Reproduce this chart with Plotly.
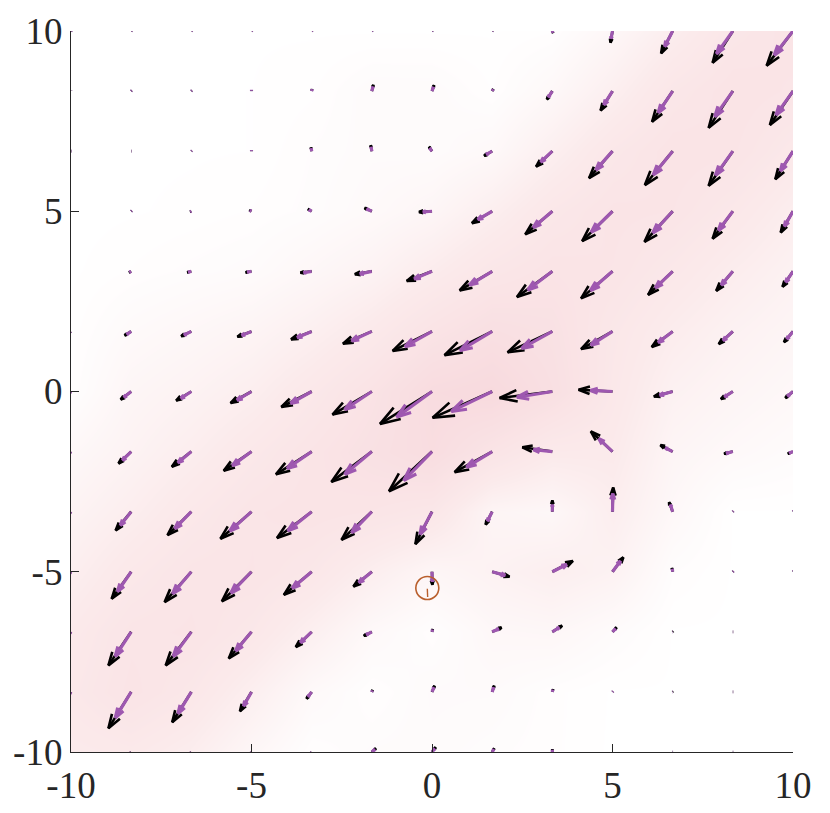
import numpy as np
import plotly.graph_objects as go

# grid (13 x 13), rows listed from top (y=10) to bottom (y=-10)
x_grid = np.linspace(-10, 10, 13)
y_grid = np.linspace(10, -10, 13)

# black field (displayed vector, data units)
U_black = [
    [0.01, 0.01, 0.01, 0.01, 0.01, 0.01, 0.01, 0.01, 0.02, -0.055, -0.32, -0.56, -0.73],
    [0.0, 0.01, 0.01, 0.0, 0.01, 0.04, 0.055, 0.03, -0.15, -0.33, -0.57, -0.67, -0.64],
    [0.01, 0.01, 0.01, 0.0, -0.02, -0.03, -0.08, -0.22, -0.45, -0.65, -0.77, -0.67, -0.49],
    [0.0, 0.01, -0.03, -0.055, -0.1, -0.2, -0.36, -0.56, -0.75, -0.84, -0.78, -0.56, -0.34],
    [-0.01, -0.055, -0.11, -0.16, -0.31, -0.47, -0.7, -0.9, -0.98, -0.87, -0.68, -0.46, -0.29],
    [-0.03, -0.18, -0.28, -0.39, -0.57, -0.8, -1.09, -1.32, -1.24, -0.87, -0.58, -0.39, -0.25],
    [-0.05, -0.29, -0.42, -0.58, -0.84, -1.09, -1.44, -1.65, -1.46, -0.94, -0.52, -0.33, -0.21],
    [-0.2, -0.35, -0.54, -0.77, -0.99, -1.12, -1.19, -1.04, -0.83, -0.6, -0.34, -0.24, -0.14],
    [-0.3, -0.43, -0.66, -0.86, -0.96, -0.84, -0.46, -0.18, 0.0, 0.02, -0.1, 0.01, 0.01],
    [-0.4, -0.54, -0.74, -0.82, -0.77, -0.51, 0.01, 0.48, 0.57, 0.3, -0.02, 0.01, 0.01],
    [-0.5, -0.63, -0.71, -0.63, -0.44, -0.22, 0.02, 0.26, 0.27, 0.11, 0.01, 0.01, 0.01],
    [-0.5, -0.63, -0.53, -0.32, -0.14, 0.02, 0.07, 0.055, 0.02, 0.01, 0.01, 0.01, 0.01],
    [-0.4, -0.45, -0.35, -0.15, -0.03, 0.11, 0.1, 0.055, 0.0, 0.01, 0.01, 0.01, 0.01],
]
V_black = [
    [0.01, 0.01, 0.01, 0.01, 0.01, 0.01, 0.01, 0.01, -0.05, -0.32, -0.62, -0.88, -0.96],
    [0.01, 0.01, 0.01, 0.02, 0.05, 0.17, 0.16, 0.05, -0.23, -0.54, -0.85, -1.02, -0.94],
    [0.0, 0.0, 0.01, 0.02, 0.1, 0.16, 0.12, -0.13, -0.43, -0.75, -0.94, -0.96, -0.78],
    [0.0, 0.01, -0.01, 0.03, 0.06, 0.09, -0.02, -0.33, -0.64, -0.83, -0.85, -0.76, -0.59],
    [0.0, -0.03, -0.03, -0.03, -0.04, -0.08, -0.27, -0.53, -0.71, -0.75, -0.65, -0.54, -0.43],
    [-0.02, -0.11, -0.13, -0.15, -0.22, -0.34, -0.54, -0.66, -0.58, -0.49, -0.43, -0.35, -0.3],
    [-0.04, -0.22, -0.25, -0.32, -0.43, -0.64, -0.9, -0.73, -0.18, 0.05, -0.14, -0.21, -0.18],
    [-0.2, -0.33, -0.42, -0.53, -0.63, -0.84, -1.1, -0.57, 0.12, 0.56, 0.18, -0.06, -0.06],
    [-0.35, -0.52, -0.65, -0.75, -0.73, -0.78, -0.9, -0.36, 0.31, 0.67, 0.26, 0.01, 0.01],
    [-0.5, -0.75, -0.84, -0.82, -0.64, -0.41, -0.36, -0.14, 0.3, 0.4, 0.1, 0.01, 0.01],
    [-0.7, -0.93, -0.93, -0.74, -0.42, -0.11, 0.07, 0.12, 0.17, 0.12, 0.01, 0.0, 0.0],
    [-0.8, -1.01, -0.84, -0.54, -0.19, 0.05, 0.17, 0.17, 0.07, 0.01, 0.01, 0.0, 0.0],
    [-0.7, -0.75, -0.6, -0.3, -0.05, 0.1, 0.13, 0.1, 0.07, 0.0, 0.0, 0.0, 0.0],
]

# purple field (displayed vector, data units)
U_purple = [
    [0.01, 0.01, 0.01, 0.01, 0.01, 0.01, 0.01, 0.01, 0.01, -0.04, -0.22, -0.45, -0.52],
    [0.0, 0.01, 0.01, 0.0, 0.01, 0.03, 0.04, 0.02, -0.11, -0.24, -0.4, -0.5, -0.47],
    [0.01, 0.01, 0.01, 0.0, -0.01, -0.02, -0.06, -0.16, -0.32, -0.46, -0.54, -0.48, -0.35],
    [0.0, 0.01, -0.02, -0.04, -0.07, -0.14, -0.25, -0.4, -0.53, -0.59, -0.55, -0.4, -0.24],
    [-0.01, -0.04, -0.08, -0.11, -0.22, -0.33, -0.49, -0.63, -0.68, -0.61, -0.48, -0.32, -0.2],
    [-0.02, -0.12, -0.2, -0.27, -0.4, -0.56, -0.75, -0.89, -0.85, -0.6, -0.4, -0.27, -0.17],
    [-0.03, -0.2, -0.29, -0.4, -0.58, -0.75, -0.98, -1.13, -0.98, -0.61, -0.36, -0.23, -0.15],
    [-0.14, -0.24, -0.37, -0.53, -0.68, -0.75, -0.78, -0.71, -0.52, -0.38, -0.2, -0.18, -0.1],
    [-0.21, -0.3, -0.46, -0.6, -0.66, -0.56, -0.33, -0.13, 0.0, 0.01, -0.06, 0.01, 0.01],
    [-0.28, -0.38, -0.52, -0.57, -0.54, -0.36, 0.01, 0.36, 0.4, 0.22, -0.01, 0.01, 0.01],
    [-0.35, -0.44, -0.5, -0.44, -0.31, -0.15, 0.01, 0.18, 0.19, 0.08, 0.01, 0.01, 0.01],
    [-0.35, -0.44, -0.37, -0.22, -0.1, 0.01, 0.05, 0.04, 0.01, 0.01, 0.01, 0.01, 0.01],
    [-0.28, -0.32, -0.25, -0.1, -0.02, 0.08, 0.07, 0.04, 0.0, 0.01, 0.01, 0.01, 0.01],
]
V_purple = [
    [0.01, 0.01, 0.01, 0.01, 0.01, 0.01, 0.01, 0.01, -0.04, -0.21, -0.43, -0.63, -0.67],
    [0.01, 0.01, 0.01, 0.02, 0.04, 0.12, 0.11, 0.04, -0.17, -0.38, -0.6, -0.71, -0.66],
    [0.0, 0.0, 0.01, 0.02, 0.07, 0.11, 0.08, -0.09, -0.3, -0.52, -0.66, -0.67, -0.55],
    [0.0, 0.01, -0.01, 0.02, 0.04, 0.06, -0.02, -0.23, -0.45, -0.58, -0.6, -0.53, -0.42],
    [0.0, -0.02, -0.02, -0.02, -0.04, -0.07, -0.21, -0.38, -0.52, -0.53, -0.46, -0.38, -0.3],
    [-0.01, -0.08, -0.1, -0.11, -0.17, -0.26, -0.42, -0.53, -0.47, -0.38, -0.31, -0.25, -0.21],
    [-0.03, -0.16, -0.19, -0.24, -0.33, -0.5, -0.71, -0.55, -0.16, 0.03, -0.1, -0.15, -0.13],
    [-0.15, -0.24, -0.31, -0.39, -0.47, -0.63, -0.8, -0.43, 0.05, 0.36, 0.1, -0.05, -0.04],
    [-0.26, -0.38, -0.47, -0.54, -0.53, -0.58, -0.63, -0.26, 0.19, 0.5, 0.19, 0.01, 0.01],
    [-0.37, -0.55, -0.61, -0.59, -0.46, -0.3, -0.27, -0.1, 0.2, 0.3, 0.07, 0.01, 0.01],
    [-0.5, -0.68, -0.68, -0.53, -0.3, -0.08, 0.05, 0.08, 0.12, 0.08, 0.0, 0.0, 0.0],
    [-0.57, -0.72, -0.6, -0.39, -0.13, 0.03, 0.12, 0.12, 0.05, 0.01, 0.0, 0.0, 0.0],
    [-0.5, -0.53, -0.42, -0.21, -0.04, 0.07, 0.09, 0.07, 0.05, 0.0, 0.0, 0.0, 0.0],
]

# highlighted point (circle) and its small arrow
mark_x = [-0.13]
mark_y = [-5.45]
mark_arrow_x = [-0.13, -0.12]
mark_arrow_y = [-5.47, -5.70]

tick_vals = [-10, -5, 0, 5, 10]
tick_text = ["-10", "-5", "0", "5", "10"]


def quiver_lines(U, V, alpha=0.33, beta=0.33):
    xs, ys = [], []
    for j, yv in enumerate(y_grid):
        for i, xv in enumerate(x_grid):
            u, v = U[j][i], V[j][i]
            tx, ty = xv + u, yv + v
            xs += [xv, tx, None]
            ys += [yv, ty, None]
            xs += [tx - alpha * (u + beta * v), tx, tx - alpha * (u - beta * v), None]
            ys += [ty - alpha * (v - beta * u), ty, ty - alpha * (v + beta * u), None]
    return xs, ys


mag = np.hypot(np.array(U_black), np.array(V_black))

fig = go.Figure()
fig.add_trace(go.Heatmap(
    x=x_grid, y=y_grid, z=mag, zsmooth="best", showscale=False,
    zmin=0, zmax=float(mag.max()),
    colorscale=[[0, "rgb(255,255,255)"], [0.45, "rgb(251,234,235)"], [1, "rgb(248,218,222)"]],
    hoverinfo="skip",
))
bx, by = quiver_lines(U_black, V_black)
fig.add_trace(go.Scatter(x=bx, y=by, mode="lines",
                         line=dict(color="black", width=2.6), hoverinfo="skip"))
px, py = quiver_lines(U_purple, V_purple)
fig.add_trace(go.Scatter(x=px, y=py, mode="lines",
                         line=dict(color="rgb(158,88,176)", width=3.2), hoverinfo="skip"))
fig.add_trace(go.Scatter(x=mark_x, y=mark_y, mode="markers",
                         marker=dict(symbol="circle-open", size=23,
                                     line=dict(color="rgb(185,95,45)", width=1.6),
                                     color="rgb(185,95,45)"),
                         hoverinfo="skip"))
fig.add_trace(go.Scatter(x=mark_arrow_x, y=mark_arrow_y, mode="lines",
                         line=dict(color="rgb(185,95,45)", width=1.4), hoverinfo="skip"))

axis_common = dict(
    range=[-10, 10], tickvals=tick_vals, ticktext=tick_text,
    showgrid=False, zeroline=False, showline=True, linecolor="rgb(38,38,38)",
    linewidth=1.3, ticks="inside", ticklen=8, tickcolor="rgb(38,38,38)",
    tickfont=dict(family="Liberation Serif", size=37, color="rgb(38,38,38)"),
    mirror=False, automargin=False,
)
fig.update_xaxes(**axis_common)
fig.update_yaxes(**axis_common)
fig.update_layout(
    width=822, height=805,
    margin=dict(l=63, r=37, t=23, b=61),
    plot_bgcolor="white", paper_bgcolor="white",
    showlegend=False,
)
fig.write_html("out.html")
